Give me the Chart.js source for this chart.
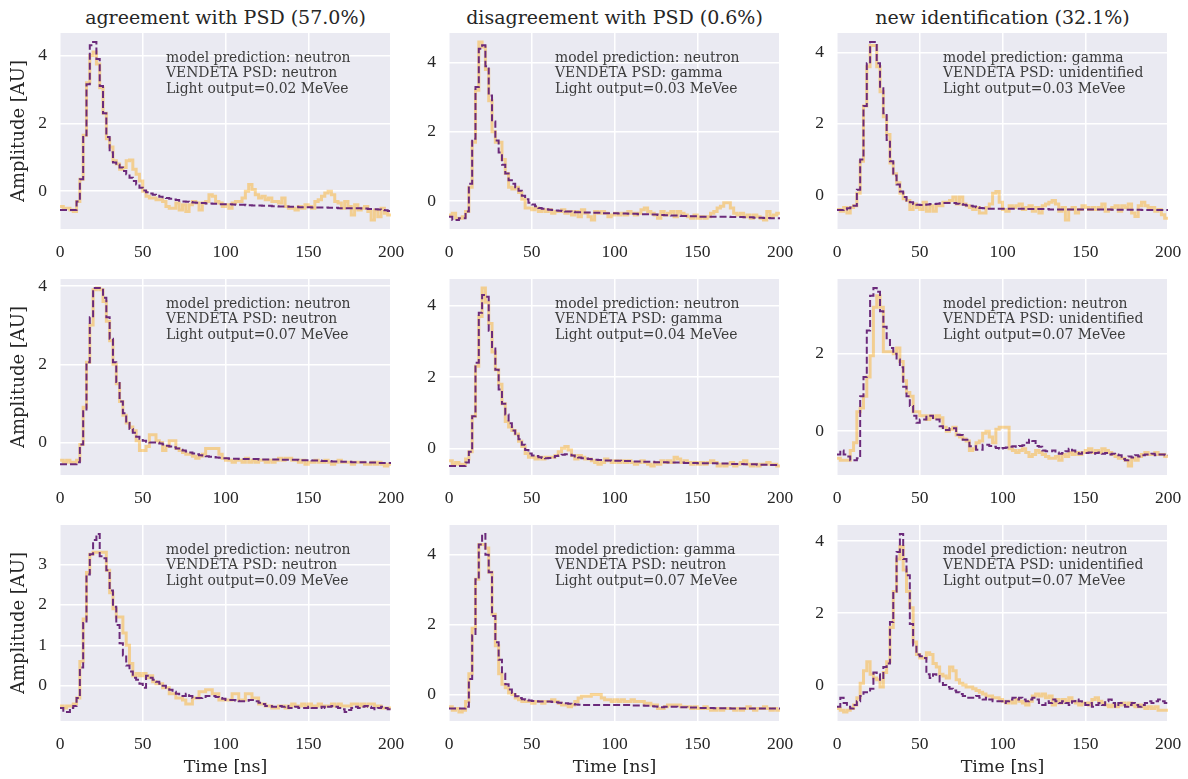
<!DOCTYPE html>
<html>
<head>
<meta charset="utf-8">
<script src="https://cdn.jsdelivr.net/npm/chart.js@4.4.1/dist/chart.umd.min.js"></script>
<style>
  body { margin: 0; background: #fff; width: 1188px; height: 779px; position: relative; overflow: hidden; }
  canvas { position: absolute; }
  .col-title { position: absolute; text-align: center; font-family: 'DejaVu Serif', serif; font-size: 19px; line-height: 22px; color: #262626; white-space: nowrap; }
  .note { position: absolute; font-family: 'DejaVu Serif', serif; font-size: 13.9px; line-height: 15.4px; color: #3c3c3c; white-space: nowrap; }
</style>
</head>
<body>
<script>
// pulse samples, one value per 2 ns bin (0..198 ns); meas = measured trace, model = prediction
const measA = [
  -0.45, -0.5, -0.5, -0.55, -0.6, -0.3, 0.35, 1.65, 3.2, 4.0,
  4.1, 3.75, 3.05, 2.3, 1.55, 1.3, 0.9, 0.8, 0.65, 0.7,
  0.9, 0.92, 0.65, 0.5, 0.3, 0.0, -0.15, -0.2, -0.2, -0.25,
  -0.25, -0.3, -0.45, -0.5, -0.5, -0.35, -0.55, -0.4, -0.6, -0.4,
  -0.3, -0.35, -0.55, -0.35, -0.3, -0.1, -0.15, -0.3, -0.35, -0.45,
  -0.4, -0.5, -0.35, -0.3, -0.3, -0.2, 0.0, 0.2, 0.05, -0.1,
  -0.2, -0.15, -0.25, -0.2, -0.3, -0.3, -0.35, -0.2, -0.45, -0.5,
  -0.5, -0.55, -0.45, -0.5, -0.4, -0.45, -0.5, -0.3, -0.25, -0.15,
  -0.05, 0.0, -0.1, -0.3, -0.35, -0.5, -0.3, -0.45, -0.7, -0.4,
  -0.55, -0.5, -0.45, -0.6, -0.85, -0.55, -0.75, -0.5, -0.65, -0.7
];
const modelA = [
  -0.55, -0.55, -0.55, -0.55, -0.55, -0.3, 0.35, 1.65, 3.15, 4.3,
  4.4, 3.9, 3.1, 2.3, 1.6, 1.15, 0.85, 0.78, 0.7, 0.6,
  0.5, 0.4, 0.3, 0.2, 0.1, 0.02, -0.03, -0.07, -0.1, -0.13,
  -0.16, -0.18, -0.2, -0.22, -0.24, -0.26, -0.28, -0.3, -0.31, -0.32,
  -0.33, -0.34, -0.35, -0.35, -0.36, -0.36, -0.37, -0.37, -0.38, -0.38,
  -0.38, -0.38, -0.39, -0.4, -0.4, -0.4, -0.41, -0.41, -0.42, -0.42,
  -0.42, -0.43, -0.43, -0.43, -0.44, -0.44, -0.45, -0.45, -0.45, -0.46,
  -0.46, -0.46, -0.47, -0.47, -0.47, -0.47, -0.48, -0.48, -0.48, -0.48,
  -0.48, -0.49, -0.49, -0.49, -0.5, -0.5, -0.5, -0.5, -0.5, -0.5,
  -0.5, -0.51, -0.51, -0.52, -0.52, -0.53, -0.54, -0.55, -0.56, -0.58
];
const measB = [
  -0.4, -0.35, -0.5, -0.5, -0.45, -0.3, 0.4, 1.7, 3.2, 4.6,
  4.45, 3.8, 2.9, 2.0, 1.7, 1.7, 1.2, 0.8, 0.4, 0.35,
  0.4, 0.25, 0.05, -0.2, -0.2, -0.25, -0.2, -0.3, -0.25, -0.3,
  -0.25, -0.35, -0.3, -0.3, -0.25, -0.35, -0.3, -0.4, -0.3, -0.45,
  -0.25, -0.35, -0.45, -0.55, -0.3, -0.35, -0.3, -0.35, -0.45, -0.4,
  -0.35, -0.4, -0.35, -0.4, -0.3, -0.35, -0.4, -0.35, -0.25, -0.2,
  -0.3, -0.35, -0.4, -0.5, -0.3, -0.4, -0.35, -0.3, -0.45, -0.3,
  -0.35, -0.4, -0.45, -0.5, -0.4, -0.5, -0.45, -0.5, -0.45, -0.35,
  -0.3, -0.2, -0.15, -0.05, -0.05, -0.2, -0.35, -0.4, -0.35, -0.45,
  -0.4, -0.5, -0.4, -0.45, -0.5, -0.55, -0.3, -0.45, -0.4, -0.35
];
const modelB = [
  -0.45, -0.55, -0.55, -0.5, -0.5, -0.3, 0.5, 1.8, 3.3, 4.4,
  4.5, 3.9, 3.05, 2.3, 1.75, 1.4, 1.05, 0.8, 0.6, 0.5,
  0.4, 0.3, 0.15, 0.05, -0.05, -0.1, -0.15, -0.2, -0.22, -0.24,
  -0.25, -0.26, -0.27, -0.28, -0.29, -0.3, -0.3, -0.31, -0.32, -0.32,
  -0.33, -0.33, -0.33, -0.34, -0.34, -0.34, -0.35, -0.35, -0.35, -0.35,
  -0.35, -0.36, -0.36, -0.36, -0.37, -0.37, -0.37, -0.38, -0.38, -0.38,
  -0.38, -0.39, -0.39, -0.4, -0.4, -0.41, -0.41, -0.42, -0.42, -0.42,
  -0.43, -0.43, -0.44, -0.44, -0.44, -0.45, -0.45, -0.45, -0.45, -0.45,
  -0.45, -0.45, -0.45, -0.45, -0.45, -0.46, -0.46, -0.46, -0.46, -0.47,
  -0.47, -0.47, -0.48, -0.48, -0.48, -0.49, -0.49, -0.5, -0.5, -0.5
];
const measC = [
  -0.4, -0.45, -0.35, -0.5, -0.35, -0.3, 0.05, 0.95, 2.5, 3.6,
  4.2, 4.2, 3.6, 2.9, 2.2, 1.7, 0.9, 0.6, 0.35, 0.05,
  -0.1, -0.15, -0.4, -0.25, -0.35, -0.4, -0.2, -0.45, -0.3, -0.45,
  -0.3, -0.3, -0.2, -0.2, -0.15, -0.05, -0.25, -0.05, -0.25, -0.3,
  -0.35, -0.4, -0.35, -0.5, -0.5, -0.35, -0.25, 0.05, 0.1, -0.2,
  -0.4, -0.45, -0.3, -0.35, -0.3, -0.25, -0.4, -0.35, -0.3, -0.45,
  -0.35, -0.5, -0.3, -0.25, -0.2, -0.15, -0.25, -0.45, -0.35, -0.7,
  -0.4, -0.35, -0.5, -0.4, -0.3, -0.35, -0.4, -0.35, -0.4, -0.35,
  -0.25, -0.45, -0.4, -0.35, -0.3, -0.45, -0.3, -0.35, -0.25, -0.5,
  -0.6, -0.3, -0.2, -0.3, -0.35, -0.35, -0.45, -0.4, -0.55, -0.65
];
const modelC = [
  -0.42, -0.42, -0.4, -0.37, -0.35, -0.3, 0.15, 1.0, 2.5, 3.7,
  4.3, 4.3, 3.7, 3.0, 2.3, 1.55, 0.95, 0.55, 0.3, 0.1,
  -0.05, -0.15, -0.2, -0.25, -0.27, -0.28, -0.27, -0.26, -0.25, -0.25,
  -0.24, -0.23, -0.22, -0.22, -0.22, -0.22, -0.24, -0.25, -0.27, -0.29,
  -0.3, -0.32, -0.34, -0.36, -0.37, -0.38, -0.38, -0.38, -0.38, -0.38,
  -0.38, -0.38, -0.38, -0.38, -0.38, -0.38, -0.38, -0.39, -0.39, -0.39,
  -0.39, -0.39, -0.39, -0.39, -0.4, -0.4, -0.4, -0.4, -0.4, -0.4,
  -0.4, -0.4, -0.4, -0.4, -0.4, -0.4, -0.4, -0.4, -0.4, -0.4,
  -0.4, -0.4, -0.4, -0.41, -0.41, -0.41, -0.41, -0.41, -0.41, -0.41,
  -0.41, -0.41, -0.42, -0.42, -0.42, -0.42, -0.42, -0.42, -0.42, -0.42
];
const measD = [
  -0.45, -0.5, -0.45, -0.5, -0.5, -0.45, -0.05, 0.9, 2.05, 3.0,
  3.9, 3.95, 3.9, 3.6, 3.1, 2.6, 2.0, 1.5, 1.05, 0.7,
  0.5, 0.4, 0.3, 0.05, -0.2, -0.2, -0.1, 0.2, 0.2, 0.05,
  0.0, -0.2, -0.1, 0.05, 0.05, -0.15, -0.2, -0.25, -0.3, -0.3,
  -0.35, -0.4, -0.35, -0.3, -0.15, -0.15, -0.15, -0.15, -0.3, -0.4,
  -0.45, -0.45, -0.5, -0.45, -0.45, -0.5, -0.4, -0.5, -0.45, -0.5,
  -0.45, -0.45, -0.5, -0.45, -0.5, -0.45, -0.4, -0.45, -0.4, -0.4,
  -0.45, -0.45, -0.5, -0.45, -0.55, -0.5, -0.5, -0.45, -0.5, -0.5,
  -0.45, -0.5, -0.55, -0.5, -0.45, -0.5, -0.5, -0.5, -0.55, -0.5,
  -0.5, -0.5, -0.55, -0.55, -0.5, -0.55, -0.5, -0.55, -0.6, -0.55
];
const modelD = [
  -0.55, -0.55, -0.55, -0.55, -0.55, -0.5, -0.05, 0.8, 2.05, 3.2,
  3.95, 3.95, 3.95, 3.7, 3.2, 2.65, 2.05, 1.55, 1.05, 0.75,
  0.5, 0.35, 0.25, 0.15, 0.1, 0.05, 0.02, 0.0, 0.0, 0.0,
  -0.02, -0.05, -0.08, -0.1, -0.12, -0.15, -0.18, -0.2, -0.23, -0.25,
  -0.28, -0.3, -0.32, -0.33, -0.35, -0.36, -0.37, -0.38, -0.39, -0.4,
  -0.4, -0.41, -0.41, -0.41, -0.42, -0.42, -0.42, -0.42, -0.42, -0.42,
  -0.43, -0.43, -0.43, -0.43, -0.43, -0.43, -0.43, -0.44, -0.44, -0.44,
  -0.44, -0.44, -0.45, -0.45, -0.45, -0.45, -0.46, -0.46, -0.46, -0.47,
  -0.47, -0.47, -0.48, -0.48, -0.48, -0.49, -0.49, -0.49, -0.5, -0.5,
  -0.5, -0.5, -0.5, -0.51, -0.51, -0.51, -0.52, -0.52, -0.52, -0.52
];
const measE = [
  -0.35, -0.45, -0.4, -0.45, -0.45, -0.3, -0.1, 0.9, 2.3, 3.7,
  4.5, 4.1, 3.5, 2.7, 2.2, 1.8, 1.25, 0.75, 0.6, 0.5,
  0.4, 0.2, 0.05, -0.15, -0.25, -0.25, -0.3, -0.25, -0.3, -0.25,
  -0.25, -0.25, -0.2, -0.1, 0.0, 0.05, -0.05, -0.2, -0.3, -0.2,
  -0.25, -0.3, -0.3, -0.35, -0.4, -0.45, -0.4, -0.3, -0.35, -0.4,
  -0.35, -0.4, -0.35, -0.4, -0.35, -0.4, -0.45, -0.4, -0.35, -0.4,
  -0.45, -0.5, -0.4, -0.45, -0.35, -0.4, -0.35, -0.4, -0.25, -0.3,
  -0.4, -0.35, -0.4, -0.45, -0.4, -0.45, -0.4, -0.45, -0.4, -0.35,
  -0.4, -0.5, -0.45, -0.5, -0.45, -0.4, -0.5, -0.45, -0.4, -0.35,
  -0.45, -0.5, -0.45, -0.5, -0.45, -0.45, -0.4, -0.45, -0.45, -0.5
];
const modelE = [
  -0.5, -0.5, -0.5, -0.5, -0.5, -0.4, -0.1, 0.9, 2.4, 3.8,
  4.3, 4.25, 3.3, 2.8, 2.2, 1.65, 1.25, 0.95, 0.7, 0.5,
  0.35, 0.25, 0.1, -0.05, -0.15, -0.2, -0.22, -0.25, -0.27, -0.28,
  -0.27, -0.25, -0.22, -0.2, -0.18, -0.17, -0.18, -0.2, -0.23, -0.26,
  -0.28, -0.29, -0.3, -0.31, -0.32, -0.33, -0.33, -0.34, -0.34, -0.35,
  -0.35, -0.35, -0.36, -0.36, -0.36, -0.37, -0.37, -0.37, -0.38, -0.38,
  -0.38, -0.38, -0.39, -0.39, -0.39, -0.39, -0.4, -0.4, -0.4, -0.4,
  -0.4, -0.41, -0.41, -0.41, -0.41, -0.42, -0.42, -0.42, -0.42, -0.42,
  -0.42, -0.43, -0.43, -0.43, -0.43, -0.44, -0.44, -0.44, -0.44, -0.45,
  -0.45, -0.45, -0.45, -0.46, -0.46, -0.46, -0.46, -0.47, -0.47, -0.47
];
const measF = [
  -0.7, -0.75, -0.75, -0.75, -0.5, -0.3, 0.5, 0.6, 0.9, 1.4,
  1.95, 3.2, 3.5, 3.2, 2.05, 2.05, 2.05, 2.0, 2.15, 1.8,
  1.3, 1.0, 0.9, 0.5, 0.5, 0.4, 0.4, 0.3, 0.4, 0.35,
  0.4, 0.35, 0.1, 0.0, 0.05, 0.1, -0.1, -0.15, -0.2, -0.25,
  -0.5, -0.45, -0.3, -0.25, -0.05, 0.0, -0.15, -0.3, 0.05, 0.1,
  0.1, 0.1, -0.45, -0.5, -0.55, -0.5, -0.45, -0.55, -0.65, -0.6,
  -0.5, -0.55, -0.6, -0.65, -0.7, -0.7, -0.65, -0.75, -0.6, -0.65,
  -0.55, -0.6, -0.55, -0.6, -0.55, -0.5, -0.45, -0.55, -0.5, -0.55,
  -0.45, -0.5, -0.55, -0.6, -0.65, -0.7, -0.7, -0.75, -0.9, -0.7,
  -0.75, -0.65, -0.6, -0.55, -0.6, -0.6, -0.55, -0.6, -0.6, -0.65
];
const modelF = [
  -0.6, -0.5, -0.6, -0.65, -0.75, -0.75, -0.7, 0.9, 1.4, 2.6,
  3.5, 3.7, 3.6, 3.1, 2.7, 2.4, 2.15, 2.0, 1.85, 1.65,
  1.15, 0.9, 0.65, 0.4, 0.22, 0.3, 0.3, 0.4, 0.4, 0.3,
  0.3, 0.13, 0.03, 0.03, 0.08, 0.08, -0.09, -0.1, -0.22, -0.22,
  -0.39, -0.39, -0.48, -0.48, -0.35, -0.35, -0.38, -0.4, -0.43, -0.45,
  -0.43, -0.42, -0.4, -0.39, -0.4, -0.38, -0.36, -0.3, -0.22, -0.25,
  -0.38, -0.4, -0.5, -0.52, -0.52, -0.5, -0.55, -0.58, -0.56, -0.52,
  -0.45, -0.5, -0.56, -0.58, -0.55, -0.56, -0.55, -0.58, -0.56, -0.55,
  -0.58, -0.56, -0.6, -0.58, -0.6, -0.62, -0.72, -0.75, -0.65, -0.68,
  -0.62, -0.65, -0.62, -0.6, -0.6, -0.58, -0.62, -0.6, -0.6, -0.62
];
const measG = [
  -0.5, -0.55, -0.5, -0.5, -0.45, -0.3, 0.6, 1.65, 2.8, 3.25,
  3.3, 3.3, 3.3, 3.3, 2.85, 2.3, 1.9, 1.7, 1.7, 1.3,
  1.0, 0.55, 0.25, 0.3, 0.25, 0.3, 0.2, 0.25, 0.1, 0.05,
  0.05, -0.05, -0.05, -0.2, -0.2, -0.3, -0.3, -0.35, -0.45, -0.45,
  -0.3, -0.3, -0.15, -0.15, -0.1, -0.1, -0.2, -0.2, -0.35, -0.35,
  -0.35, -0.35, -0.2, -0.2, -0.35, -0.35, -0.2, -0.2, -0.3, -0.3,
  -0.45, -0.45, -0.5, -0.5, -0.55, -0.55, -0.5, -0.5, -0.55, -0.5,
  -0.45, -0.5, -0.5, -0.45, -0.5, -0.45, -0.5, -0.5, -0.45, -0.5,
  -0.5, -0.5, -0.45, -0.5, -0.45, -0.5, -0.5, -0.5, -0.45, -0.45,
  -0.5, -0.45, -0.5, -0.45, -0.45, -0.5, -0.5, -0.55, -0.55, -0.55
];
const modelG = [
  -0.55, -0.65, -0.65, -0.55, -0.5, -0.3, 0.45, 1.55, 2.75, 3.25,
  3.6, 3.75, 3.2, 3.15, 2.85, 2.35, 1.95, 1.5, 1.05, 0.75,
  0.5, 0.35, 0.2, 0.15, 0.05, -0.05, 0.25, 0.2, 0.15, 0.1,
  0.05, 0.0, -0.05, -0.1, -0.15, -0.2, -0.25, -0.25, -0.2, -0.25,
  -0.3, -0.3, -0.3, -0.28, -0.25, -0.25, -0.25, -0.28, -0.3, -0.32,
  -0.35, -0.35, -0.35, -0.37, -0.38, -0.38, -0.37, -0.35, -0.35, -0.38,
  -0.42, -0.45, -0.5, -0.5, -0.52, -0.52, -0.5, -0.52, -0.5, -0.55,
  -0.55, -0.52, -0.55, -0.55, -0.55, -0.52, -0.55, -0.55, -0.55, -0.52,
  -0.55, -0.52, -0.5, -0.52, -0.55, -0.58, -0.65, -0.6, -0.55, -0.52,
  -0.55, -0.52, -0.5, -0.52, -0.55, -0.58, -0.55, -0.52, -0.55, -0.58
];
const measH = [
  -0.35, -0.45, -0.4, -0.5, -0.45, -0.2, 0.6, 1.9, 3.3, 4.3,
  4.3, 4.2, 3.5, 2.3, 1.4, 0.6, 0.3, 0.2, 0.05, 0.0,
  -0.1, -0.15, -0.2, -0.2, -0.2, -0.25, -0.2, -0.2, -0.25, -0.2,
  -0.2, -0.15, -0.2, -0.25, -0.3, -0.3, -0.35, -0.3, -0.2, -0.1,
  -0.05, -0.05, -0.05, 0.0, 0.0, 0.0, -0.1, -0.15, -0.15, -0.2,
  -0.15, -0.2, -0.15, -0.2, -0.2, -0.15, -0.2, -0.2, -0.2, -0.25,
  -0.25, -0.3, -0.3, -0.4, -0.4, -0.35, -0.3, -0.3, -0.3, -0.3,
  -0.35, -0.35, -0.35, -0.4, -0.35, -0.4, -0.4, -0.35, -0.4, -0.45,
  -0.45, -0.4, -0.45, -0.4, -0.4, -0.4, -0.45, -0.4, -0.45, -0.4,
  -0.35, -0.4, -0.45, -0.4, -0.4, -0.35, -0.4, -0.45, -0.4, -0.45
];
const modelH = [
  -0.4, -0.4, -0.4, -0.4, -0.4, -0.35, 0.45, 1.7, 3.3, 4.3,
  4.6, 4.0, 3.5, 2.25, 1.5, 1.0, 0.6, 0.3, 0.15, 0.05,
  -0.05, -0.1, -0.13, -0.15, -0.17, -0.18, -0.19, -0.2, -0.2, -0.2,
  -0.2, -0.21, -0.22, -0.23, -0.24, -0.25, -0.26, -0.27, -0.28, -0.29,
  -0.3, -0.3, -0.3, -0.3, -0.3, -0.3, -0.3, -0.3, -0.3, -0.3,
  -0.3, -0.3, -0.3, -0.3, -0.3, -0.31, -0.31, -0.31, -0.31, -0.32,
  -0.32, -0.33, -0.34, -0.35, -0.36, -0.35, -0.35, -0.35, -0.35, -0.36,
  -0.36, -0.36, -0.37, -0.37, -0.37, -0.38, -0.38, -0.38, -0.38, -0.38,
  -0.39, -0.39, -0.39, -0.39, -0.39, -0.4, -0.4, -0.4, -0.4, -0.4,
  -0.4, -0.4, -0.4, -0.4, -0.4, -0.4, -0.4, -0.4, -0.4, -0.4
];
const measI = [
  -0.65, -0.7, -0.75, -0.7, -0.65, -0.55, -0.35, 0.05, 0.4, 0.65,
  0.3, 0.2, 0.15, -0.05, 0.35, 0.65, 1.6, 2.6, 3.5, 3.85,
  3.2, 2.6, 2.15, 1.2, 0.85, 0.75, 0.75, 0.9, 0.85, 0.6,
  0.5, 0.3, 0.25, 0.2, 0.5, 0.4, 0.15, 0.05, 0.0, -0.05,
  -0.05, -0.1, -0.15, -0.2, -0.25, -0.3, -0.3, -0.35, -0.35, -0.4,
  -0.45, -0.5, -0.45, -0.5, -0.4, -0.45, -0.5, -0.55, -0.45, -0.3,
  -0.25, -0.3, -0.25, -0.35, -0.3, -0.55, -0.4, -0.5, -0.4, -0.45,
  -0.35, -0.45, -0.5, -0.55, -0.5, -0.5, -0.55, -0.4, -0.35, -0.45,
  -0.5, -0.55, -0.6, -0.55, -0.6, -0.55, -0.5, -0.55, -0.5, -0.55,
  -0.6, -0.55, -0.6, -0.65, -0.6, -0.65, -0.6, -0.7, -0.7, -0.7
];
const modelI = [
  -0.6, -0.35, -0.5, -0.6, -0.65, -0.55, -0.45, -0.3, -0.2, -0.2,
  -0.1, 0.35, 0.3, 0.15, 0.5, 0.6, 1.75, 2.6, 3.7, 4.2,
  3.5, 3.05, 1.7, 1.1, 0.85, 0.8, 0.75, 0.3, 0.2, 0.3,
  0.25, 0.1, 0.0, -0.05, -0.1, -0.15, -0.2, -0.25, -0.3, -0.35,
  -0.35, -0.35, -0.3, -0.35, -0.4, -0.35, -0.4, -0.45, -0.45, -0.45,
  -0.5, -0.45, -0.4, -0.35, -0.4, -0.35, -0.4, -0.45, -0.4, -0.35,
  -0.4, -0.5, -0.55, -0.45, -0.5, -0.4, -0.45, -0.5, -0.45, -0.5,
  -0.55, -0.45, -0.4, -0.45, -0.5, -0.55, -0.5, -0.6, -0.55, -0.5,
  -0.55, -0.45, -0.4, -0.5, -0.6, -0.5, -0.55, -0.6, -0.55, -0.5,
  -0.55, -0.6, -0.55, -0.5, -0.45, -0.5, -0.45, -0.4, -0.45, -0.5
];

const columnTitles = ['agreement with PSD (57.0%)', 'disagreement with PSD (0.6%)', 'new identification (32.1%)'];
const modelLabels = ['neutron', 'neutron', 'gamma', 'neutron', 'neutron', 'neutron', 'neutron', 'gamma', 'neutron'];
const psdLabels = ['neutron', 'gamma', 'unidentified', 'neutron', 'gamma', 'unidentified', 'neutron', 'neutron', 'unidentified'];
const lightOutputs = ['0.02', '0.03', '0.03', '0.07', '0.04', '0.07', '0.09', '0.07', '0.07'];
const timeTicks = [0, 50, 100, 150, 200];
const ampTicks = [[0, 2, 4], [0, 2, 4], [0, 2, 4], [0, 2, 4], [0, 2, 4], [0, 2, 4], [0, 1, 2, 3], [0, 2, 4], [0, 2, 4]];
const BIN_NS = 2;

const panels = [
  [measA, modelA], [measB, modelB], [measC, modelC],
  [measD, modelD], [measE, modelE], [measF, modelF],
  [measG, modelG], [measH, modelH], [measI, modelI]
];

// layout of the plot areas on the page
const COL_LEFT = [60, 449, 837];
const ROW_TOP = [33, 279, 525];
const PLOT_W = 331;
const PLOT_H = 196;
const PAGE_H = 779;

const TEXT = '#262626';
const MEAS_COLOR = 'rgba(255, 165, 0, 0.4)';
const MODEL_COLOR = '#6b2a7b';

const plotBackground = {
  id: 'plotBackground',
  beforeDraw(chart) {
    const a = chart.chartArea;
    const ctx = chart.ctx;
    ctx.save();
    ctx.fillStyle = '#eaeaf2';
    ctx.fillRect(a.left, a.top, a.right - a.left, a.bottom - a.top);
    ctx.restore();
  }
};

function toSteps(values) {
  const pts = values.map(function (v, i) {
    return { x: i * BIN_NS, y: v };
  });
  pts.push({ x: values.length * BIN_NS, y: values[values.length - 1] });
  return pts;
}

function addText(cls, left, top, width, html) {
  const div = document.createElement('div');
  div.className = cls;
  div.style.left = left + 'px';
  div.style.top = top + 'px';
  if (width) div.style.width = width + 'px';
  div.innerHTML = html;
  document.body.appendChild(div);
}

columnTitles.forEach(function (t, c) {
  addText('col-title', COL_LEFT[c], 6, PLOT_W, t);
});

panels.forEach(function (pair, idx) {
  const r = Math.floor(idx / 3);
  const c = idx % 3;
  const meas = pair[0];
  const model = pair[1];

  const padL = c === 0 ? 60 : 50;
  const padT = 8;
  const padR = 18;
  const padB = r === 2 ? PAGE_H - (ROW_TOP[2] + PLOT_H) : 30;

  const canvas = document.createElement('canvas');
  canvas.width = padL + PLOT_W + padR;
  canvas.height = padT + PLOT_H + padB;
  canvas.style.left = (COL_LEFT[c] - padL) + 'px';
  canvas.style.top = (ROW_TOP[r] - padT) + 'px';
  document.body.appendChild(canvas);

  const all = meas.concat(model);
  const lo = Math.min.apply(null, all);
  const hi = Math.max.apply(null, all);
  const margin = (hi - lo) * 0.05;
  const yMin = lo - margin;
  const yMax = hi + margin;
  const tickFont = { family: "'Liberation Serif', serif", size: 17.5 };

  new Chart(canvas, {
    type: 'line',
    data: {
      datasets: [
        {
          data: toSteps(model),
          borderColor: MODEL_COLOR,
          borderWidth: 2,
          borderDash: [7, 3],
          stepped: true,
          pointRadius: 0,
          fill: false,
          order: 0
        },
        {
          data: toSteps(meas),
          borderColor: MEAS_COLOR,
          borderWidth: 3,
          stepped: true,
          pointRadius: 0,
          fill: false,
          order: 1
        }
      ]
    },
    options: {
      responsive: false,
      animation: false,
      events: [],
      layout: { autoPadding: false, padding: { top: padT, right: padR, left: 0, bottom: 0 } },
      plugins: { legend: { display: false }, tooltip: { enabled: false } },
      scales: {
        x: {
          type: 'linear',
          min: 0,
          max: 200,
          afterBuildTicks: function (axis) {
            axis.ticks = timeTicks.map(function (v) { return { value: v }; });
          },
          afterFit: function (axis) {
            axis.height = padB;
            axis.paddingLeft = 0;
            axis.paddingRight = 0;
          },
          ticks: { font: tickFont, color: TEXT, padding: 13, maxRotation: 0, autoSkip: false },
          grid: { color: '#ffffff', lineWidth: 1.5, drawTicks: false },
          border: { display: false },
          title: {
            display: r === 2,
            text: 'Time [ns]',
            color: TEXT,
            font: { family: "'DejaVu Serif', serif", size: 17.5 },
            padding: { top: 0, bottom: 1.5 }
          }
        },
        y: {
          type: 'linear',
          min: yMin,
          max: yMax,
          afterBuildTicks: function (axis) {
            axis.ticks = ampTicks[idx].filter(function (v) {
              return v >= yMin && v <= yMax;
            }).map(function (v) { return { value: v }; });
          },
          afterFit: function (axis) {
            axis.width = padL;
            axis.paddingTop = 0;
            axis.paddingBottom = 0;
          },
          ticks: { font: tickFont, color: TEXT, padding: 13 },
          grid: { color: '#ffffff', lineWidth: 1.5, drawTicks: false },
          border: { display: false },
          title: {
            display: c === 0,
            text: 'Amplitude [AU]',
            color: TEXT,
            font: { family: "'DejaVu Serif', serif", size: 18 },
            padding: { top: 9, bottom: 0 }
          }
        }
      }
    },
    plugins: [plotBackground]
  });

  addText('note', COL_LEFT[c] + 106, ROW_TOP[r] + 17, 0,
    'model prediction: ' + modelLabels[idx] + '<br>' +
    'VENDETA PSD: ' + psdLabels[idx] + '<br>' +
    'Light output=' + lightOutputs[idx] + ' MeVee');
});
</script>
</body>
</html>
